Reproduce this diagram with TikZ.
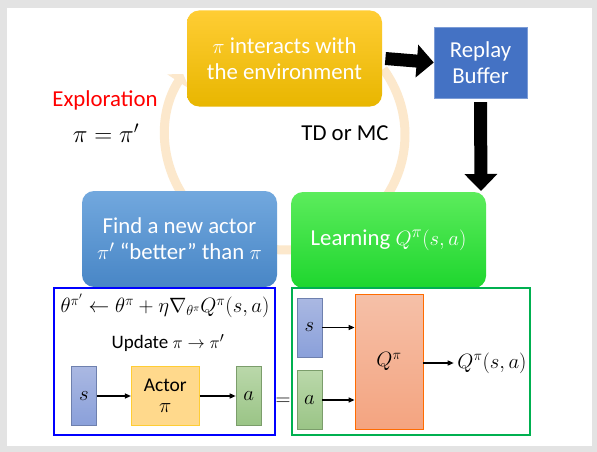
\documentclass[tikz,border=0pt]{standalone}
\usepackage{fontspec}
\setmainfont{Carlito}
\usetikzlibrary{arrows.meta,positioning}

\definecolor{envtop}{RGB}{255,205,52}
\definecolor{envbot}{RGB}{232,182,0}
\definecolor{findtop}{RGB}{114,168,222}
\definecolor{findbot}{RGB}{72,134,198}
\definecolor{learntop}{RGB}{92,236,92}
\definecolor{learnbot}{RGB}{30,214,46}
\definecolor{bufblue}{RGB}{68,114,196}
\definecolor{ringcol}{RGB}{252,232,204}
\definecolor{stop}{RGB}{170,184,226}
\definecolor{sbot}{RGB}{138,160,218}
\definecolor{atop}{RGB}{186,216,170}
\definecolor{abot}{RGB}{154,196,134}
\definecolor{qtop}{RGB}{245,192,168}
\definecolor{qbot}{RGB}{244,164,128}
\definecolor{actorfill}{RGB}{255,217,140}
\definecolor{frameblue}{RGB}{0,0,255}
\definecolor{framegreen}{RGB}{0,176,80}

\begin{document}
\begin{tikzpicture}[x=1pt, y=-1pt, thick,
    stage/.style = {rounded corners=12pt, minimum width=195pt, minimum height=96pt, align=center, text=white, font=\fontsize{22.8}{26}\selectfont},
    bar/.style = {draw, minimum width=25pt, minimum height=59pt, inner sep=0pt, font=\fontsize{21}{22}\selectfont},
    big/.style = {line width=13pt, -{Triangle[width=32pt,length=17pt]}},
    feed/.style = {line width=1.3pt, -{Triangle[length=6pt,width=5pt]}},
    label/.style = {font=\fontsize{22.8}{26}\selectfont}]

    % slide
    \useasboundingbox (0,0) rectangle (597,452);
    \fill[gray!22] (0,0) rectangle (597,452);
    \fill[white] (7,8) rectangle (592,446);

    % cycle
    \draw[ringcol, line width=9pt, -{Triangle[width=26pt,length=9pt]}] (383.3,69) arc[start angle=35, end angle=-212, x radius=120pt, y radius=115pt];

    \node[stage, top color=envtop, bottom color=envbot] (env) at (284.5,58.5) {$\pi$ interacts with\\the environment};
    \node[draw=bufblue!70!white, fill=bufblue, thin, minimum width=93pt, minimum height=71pt, align=center, text=white, font=\fontsize{22.8}{26}\selectfont] (buf) at (480.5,62.5) {Replay\\Buffer};
    \node[stage, top color=findtop, bottom color=findbot] (find) at (179.5,239) {Find a new actor\\$\pi'$ “better” than $\pi$};
    \node[stage, top color=learntop, bottom color=learnbot] (learn) at (388.5,240) {Learning $Q^{\pi}(s,a)$};

    \coordinate (drop) at (481,191);
    \draw[big] ([xshift=3pt]env.east) -- (buf.west);
    \draw[big] ([yshift=-4pt]buf.south) -- (drop);

    \node[label, text=red] (explore) at (105,100) {Exploration};
    \node[label, font=\fontsize{23.4}{26}\selectfont] (swap) at (106,133) {$\pi = \pi'$};
    \node[label] (td) at (345,133) {TD or MC};

    % actor side
    \draw[frameblue, line width=2.5pt] (54,288) rectangle (275,435);
    \node[font=\fontsize{20.5}{22}\selectfont] (grad) at (165,306) {$\theta^{\pi'} \leftarrow \theta^{\pi} + \eta \nabla_{\theta^{\pi}} Q^{\pi}(s,a)$};
    \node[font=\fontsize{19}{22}\selectfont] (update) at (168,343) {Update $\pi \rightarrow \pi'$};
    \node[bar, draw=sbot!80!black, top color=stop, bottom color=sbot] (s1) at (84,396) {$s$};
    \node[bar, draw=envtop, fill=actorfill, minimum width=68pt, align=center, font=\fontsize{19.5}{21}\selectfont] (actor) [right=34pt of s1] {Actor\\$\pi$};
    \node[bar, draw=abot!80!black, top color=atop, bottom color=abot] (a1) [right=36pt of actor] {$a$};
    \draw[feed] (s1) -- (actor);
    \draw[feed] (actor) -- (a1);

    \node[font=\fontsize{20}{22}\selectfont] (eq) at (283,402) {$=$};

    % critic side
    \draw[framegreen, line width=2.5pt] (292,288) rectangle (530,435);
    \node[bar, draw=sbot!80!black, top color=stop, bottom color=sbot] (s2) at (309.5,327.5) {$s$};
    \node[bar, draw=abot!80!black, top color=atop, bottom color=abot] (a2) at (309.5,400) {$a$};
    \node[bar, draw=orange!85!red, top color=qtop, bottom color=qbot, minimum width=68pt, minimum height=135pt, font=\fontsize{22}{24}\selectfont] (q) at (389,361.5) {$Q^{\pi}$};
    \node[font=\fontsize{21}{22}\selectfont] (qsa) at (492,363) {$Q^{\pi}(s,a)$};
    \draw[feed] (s2) -- (s2 -| q.west);
    \draw[feed] (a2) -- (a2 -| q.west);
    \draw[feed] (q.east |- qsa) -- (qsa);

\end{tikzpicture}
\end{document}
